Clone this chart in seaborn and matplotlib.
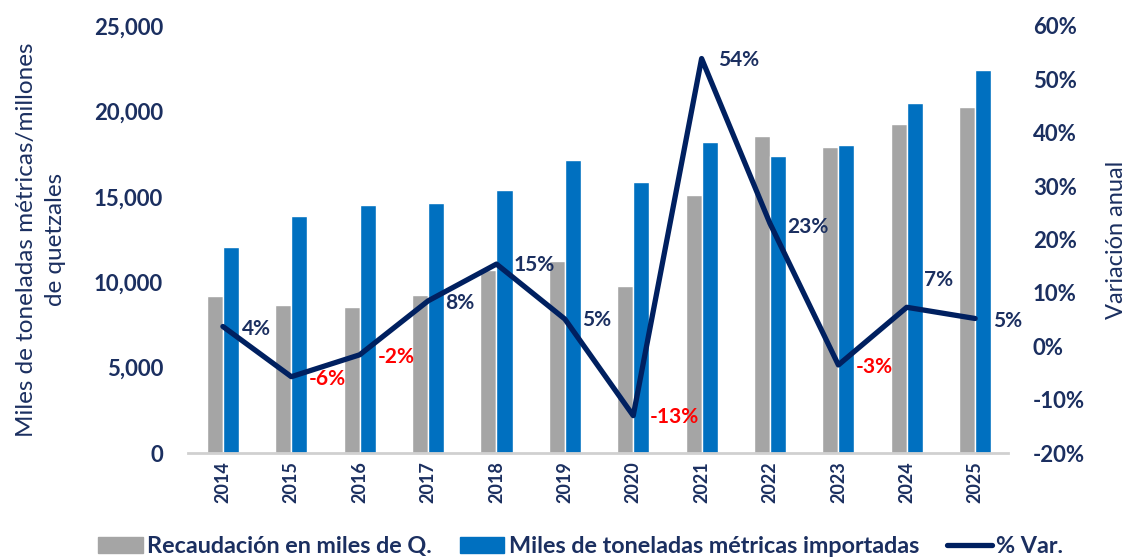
import numpy as np
import pandas as pd
import matplotlib
matplotlib.use("Agg")
import matplotlib.pyplot as plt
import seaborn as sns
from matplotlib.patches import Patch
from matplotlib.lines import Line2D
from matplotlib.ticker import FuncFormatter, MultipleLocator

years = ["2014", "2015", "2016", "2017", "2018", "2019", "2020", "2021", "2022", "2023", "2024", "2025"]
recaudacion = [9190, 8670, 8550, 9230, 10700, 11240, 9780, 15090, 18560, 17920, 19240, 20240]
toneladas = [12040, 13880, 14500, 14640, 15380, 17140, 15880, 18210, 17390, 18030, 20470, 22420]
variacion = [3.7, -5.7, -1.6, 8.5, 15.4, 5.1, -13.0, 53.9, 23.0, -3.5, 7.3, 5.2]
var_labels = ["4%", "-6%", "-2%", "8%", "15%", "5%", "-13%", "54%", "23%", "-3%", "7%", "5%"]

serie_gris = "Recaudación en miles de Q."
serie_azul = "Miles de toneladas métricas importadas"
serie_linea = "% Var."

NAVY = "#1B2F60"
LINE = "#002060"
GRAY = "#A5A5A5"
BLUE = "#0070C0"
RED = "#FF0000"

sns.set_theme(style="white")
plt.rcParams["font.family"] = ["Lato", "DejaVu Sans"]

df = pd.DataFrame({
    "year": years * 2,
    "value": recaudacion + toneladas,
    "serie": [serie_gris] * len(years) + [serie_azul] * len(years),
})

fig = plt.figure(figsize=(11.28, 5.59), dpi=100)
ax = fig.add_axes([0.1667, 0.1896, 0.7269, 0.7639])

sns.barplot(data=df, x="year", y="value", hue="serie", order=years,
            hue_order=[serie_gris, serie_azul], palette=[GRAY, BLUE],
            width=0.47, gap=0, saturation=1, dodge=True, ax=ax, legend=False)

ax.set_xlim(-0.51, 11.48)
ax.set_ylim(0, 25000)
ax.yaxis.set_major_locator(MultipleLocator(5000))
ax.yaxis.set_major_formatter(FuncFormatter(lambda v, p: f"{int(v):,}"))
ax.set_xlabel("")
ax.set_ylabel("Miles de toneladas métricas/millones\nde quetzales", fontsize=17.5,
              color=NAVY, linespacing=1.45)
ax.yaxis.set_label_coords(-0.149, 0.5)
ax.tick_params(axis="y", length=0, pad=18, labelsize=16, labelcolor=NAVY)
ax.tick_params(axis="x", length=0, pad=6, labelsize=13, labelcolor=NAVY, rotation=90)
for t in ax.get_yticklabels() + ax.get_xticklabels():
    t.set_fontweight("bold")
for s in ["left", "right", "top"]:
    ax.spines[s].set_visible(False)
ax.spines["bottom"].set_color("#D0D0D0")
ax.spines["bottom"].set_linewidth(2)

ax2 = ax.twinx()
xpos = np.arange(len(years))
sns.lineplot(x=xpos, y=variacion, color=LINE, linewidth=3.8, ax=ax2, legend=False)
ax2.set_ylim(-20, 60)
ax2.set_xlim(-0.51, 11.48)
ax2.yaxis.set_major_locator(MultipleLocator(10))
ax2.yaxis.set_major_formatter(FuncFormatter(lambda v, p: f"{int(round(v))}%"))
ax2.tick_params(axis="y", length=0, pad=18, labelsize=16, labelcolor=NAVY)
for t in ax2.get_yticklabels():
    t.set_fontweight("bold")
ax2.set_ylabel("Variación anual", fontsize=17, color=NAVY)
ax2.yaxis.set_label_coords(1.12, 0.5)
for s in ["left", "right", "top", "bottom"]:
    ax2.spines[s].set_visible(False)

offsets = [(34, -2), (36, -2), (37, -2), (32, -2), (38, -1), (32, -1),
           (41, -1), (37, -1), (38, -4), (36, -2), (32, 27), (32, -2)]
for i, (v, lab) in enumerate(zip(variacion, var_labels)):
    col = RED if v < 0 else NAVY
    ax2.annotate(lab, (xpos[i], v), xytext=offsets[i], textcoords="offset pixels",
                 ha="center", va="center", fontsize=15, fontweight="bold", color=col)

handles = [Patch(facecolor=GRAY, edgecolor=GRAY),
           Patch(facecolor=BLUE, edgecolor=BLUE),
           Line2D([0], [0], color=LINE, linewidth=3.8)]
leg = fig.legend(handles, [serie_gris, serie_azul, serie_linea], loc="center",
                 bbox_to_anchor=(0.515, 0.022), ncol=3, frameon=False,
                 fontsize=16.8, handlelength=1.9, handleheight=0.7,
                 handletextpad=0.2, columnspacing=1.2)
for t in leg.get_texts():
    t.set_color(NAVY)
    t.set_fontweight("bold")

fig.savefig("out.png", dpi=100)
